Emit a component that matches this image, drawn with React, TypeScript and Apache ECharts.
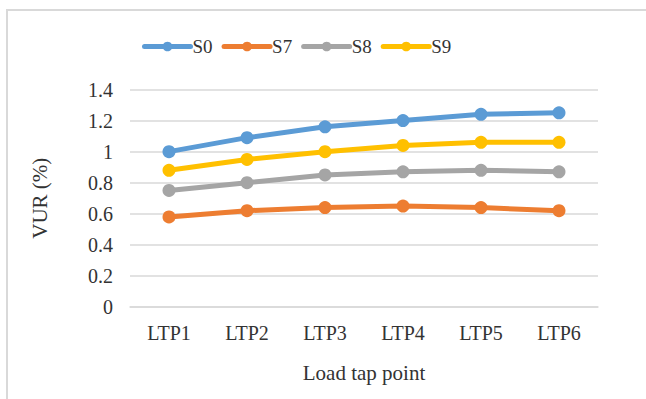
import React, { useEffect, useRef } from "react";
import * as echarts from "echarts";

const categories = ["LTP1", "LTP2", "LTP3", "LTP4", "LTP5", "LTP6"];
const s0 = [1.0, 1.09, 1.16, 1.2, 1.24, 1.25];
const s7 = [0.58, 0.62, 0.64, 0.65, 0.64, 0.62];
const s8 = [0.75, 0.8, 0.85, 0.87, 0.88, 0.87];
const s9 = [0.88, 0.95, 1.0, 1.04, 1.06, 1.06];
const seriesNames = ["S0", "S7", "S8", "S9"];
const seriesColors = ["#5B9BD5", "#ED7D31", "#A5A5A5", "#FFC000"];

const FONT = "Liberation Serif";
const TEXT = "#333333";

export default function App() {
  const ref = useRef<HTMLDivElement>(null);

  useEffect(() => {
    if (!ref.current) return;
    const chart = echarts.init(ref.current, undefined, { renderer: "svg" });
    const data = [s0, s7, s8, s9];
    chart.setOption({
      animation: false,
      backgroundColor: "#ffffff",
      textStyle: { fontFamily: FONT, color: TEXT },
      graphic: [
        { type: "line", shape: { x1: 6, y1: 10, x2: 646, y2: 10 }, style: { stroke: "#d9d9d9", lineWidth: 2 } },
        { type: "line", shape: { x1: 7, y1: 10, x2: 7, y2: 399 }, style: { stroke: "#d9d9d9", lineWidth: 2 } },
      ],
      legend: {
        left: 137,
        top: 32,
        itemWidth: 46,
        itemHeight: 12,
        itemGap: 9,
        lineStyle: { width: 5, cap: "round" },
        textStyle: { fontFamily: FONT, fontSize: 19, color: TEXT, padding: [0, 0, 0, -3] },
        data: seriesNames,
      },
      grid: { left: 130, right: 48, top: 89.5, bottom: 92 },
      xAxis: {
        type: "category",
        data: categories,
        boundaryGap: true,
        name: "Load tap point",
        nameLocation: "middle",
        nameGap: 55,
        nameTextStyle: { fontFamily: FONT, fontSize: 21, color: TEXT },
        axisLine: { lineStyle: { color: "#d9d9d9", width: 1.5 } },
        axisTick: { show: false },
        axisLabel: { fontFamily: FONT, fontSize: 20, color: TEXT, margin: 16 },
      },
      yAxis: {
        type: "value",
        min: 0,
        max: 1.4,
        interval: 0.2,
        name: "VUR (%)",
        nameLocation: "middle",
        nameGap: 80,
        nameTextStyle: { fontFamily: FONT, fontSize: 21, color: TEXT },
        axisLine: { show: false },
        axisTick: { show: false },
        splitLine: { lineStyle: { color: "#d9d9d9", width: 1.5 } },
        axisLabel: {
          fontFamily: FONT,
          fontSize: 20,
          color: TEXT,
          margin: 17,
          formatter: (v: number) => String(parseFloat(v.toFixed(1))),
        },
      },
      series: data.map((d, i) => ({
        name: seriesNames[i],
        type: "line",
        data: d,
        symbol: "circle",
        symbolSize: 13,
        color: seriesColors[i],
        lineStyle: { width: 5, color: seriesColors[i], cap: "round", join: "round" },
        itemStyle: { color: seriesColors[i] },
      })),
    });
    return () => chart.dispose();
  }, []);

  return (
    <div
      ref={ref}
      style={{ position: "fixed", left: 0, top: 0, width: 646, height: 399 }}
    />
  );
}
